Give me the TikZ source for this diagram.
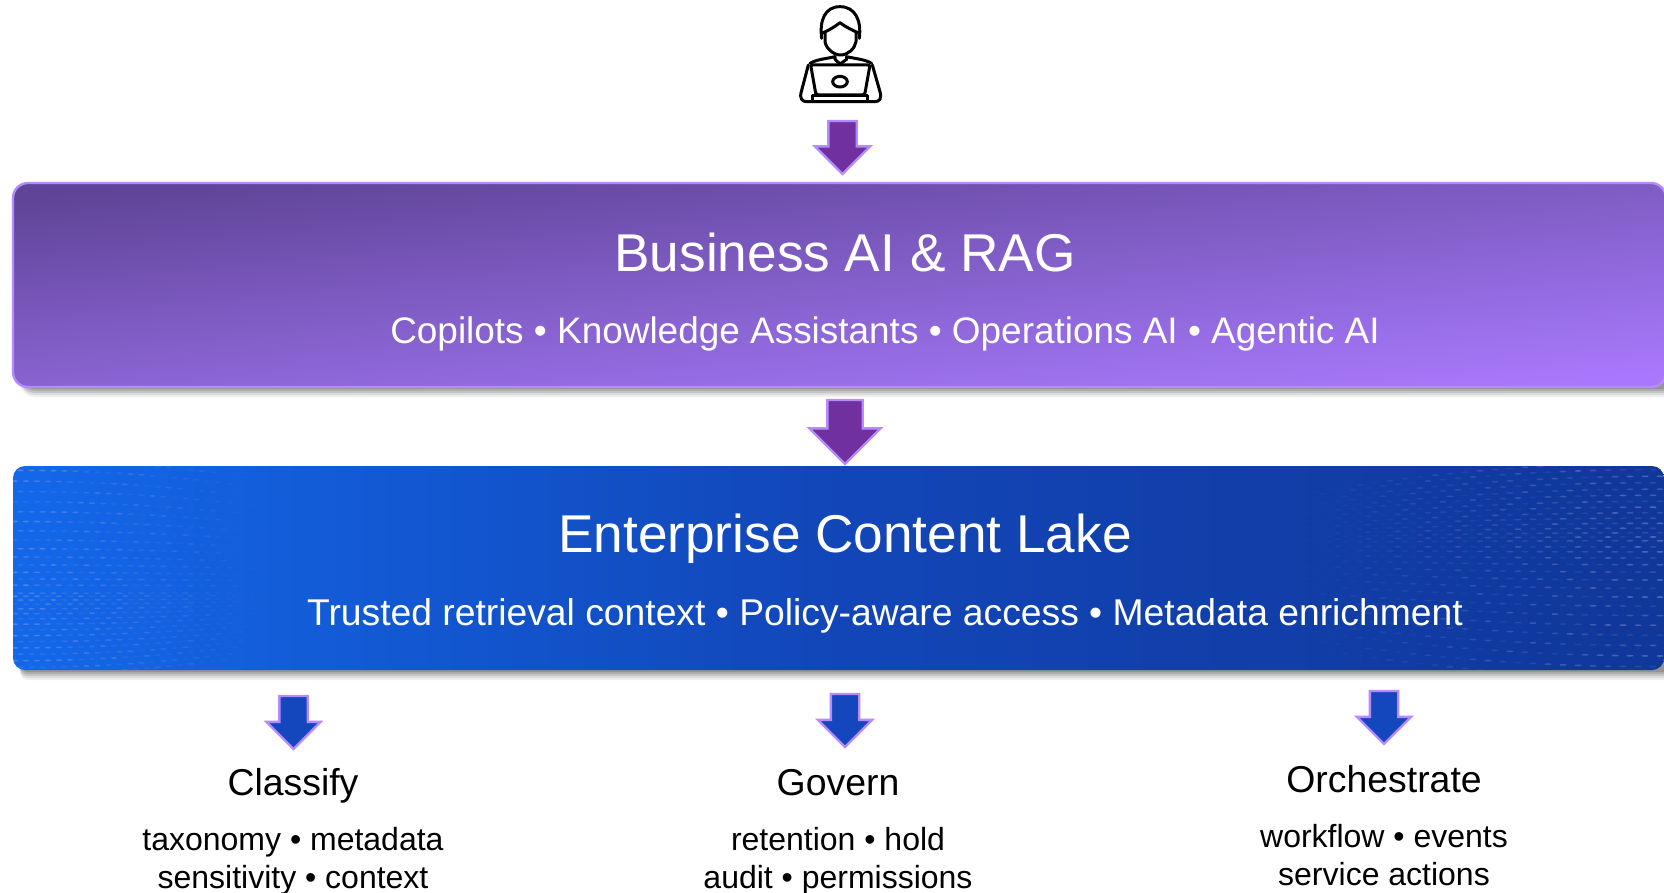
\documentclass[tikz,border=0pt]{standalone}
\usepackage{fontspec}
\setmainfont{Liberation Sans}
\usetikzlibrary{shapes.arrows,calc}
\definecolor{edgeLilac}{HTML}{B48CFF}
\definecolor{arrowPurple}{HTML}{7030A0}
\definecolor{arrowBlue}{HTML}{1447BE}
\definecolor{purpleA}{HTML}{5F4497}
\definecolor{purpleB}{HTML}{8460CB}
\definecolor{purpleC}{HTML}{A878FC}
\definecolor{blueA}{HTML}{1368EA}
\definecolor{blueB}{HTML}{1246B8}
\definecolor{blueC}{HTML}{10379A}
\definecolor{dotGrey}{HTML}{A8A8D8}
\tikzset{
  blockarrow/.style={single arrow,shape border rotate=270,draw=edgeLilac,line width=2.4pt,
    outer sep=0pt,single arrow head indent=0pt,single arrow tip angle=90,anchor=tip},
  smallarrow/.style={blockarrow,fill=arrowBlue,inner sep=13pt,minimum height=53pt,minimum width=52pt,single arrow head extend=13pt},
  title/.style={text=white,font=\fontsize{53.2}{60}\selectfont,anchor=base,inner sep=0pt},
  sub/.style={text=white,anchor=base,inner sep=0pt},
  head/.style={text=black,font=\fontsize{37.4}{44}\selectfont,anchor=base,inner sep=0pt},
  detail/.style={text=black,font=\fontsize{32}{38}\selectfont,anchor=base,inner sep=0pt},
  icon/.style={draw=black,line width=3pt,line join=round,line cap=round}
}
\begin{document}
\begin{tikzpicture}[x=1pt,y=-1pt]
\useasboundingbox (0,0) rectangle (1664,892);
\clip (0,0) rectangle (1664,892);
% shadows
\foreach \o/\a in {10/.06,8/.08,6/.1,4/.12,2/.14}{
  \fill[black,opacity=\a,rounded corners=15pt] (20,200) rectangle (1680,387+\o);
  \fill[black,opacity=\a,rounded corners=8pt] (20,480) rectangle (1680,670+\o);
}
% purple band
\shade[rounded corners=15pt,draw=edgeLilac,line width=2.4pt,top color=purpleA,bottom color=purpleC,middle color=purpleB,shading angle=5.5] (13,183) rectangle (1666,387);
% blue band
\begin{scope}
\clip[rounded corners=12pt] (13,466) rectangle (1664,670);
\shade[left color=blueA,right color=blueC,middle color=blueB] (13,466) rectangle (1664,670);
\foreach \i in {0,...,30}{\foreach \j in {0,...,24}{
  \pgfmathsetmacro{\uu}{(\i-15)/15}
  \pgfmathsetmacro{\pw}{(abs(\uu)+.04)^1.3}
  \pgfmathsetmacro{\sg}{\uu<0 ? -1 : 1}
  \pgfmathsetmacro{\px}{15+\j*11+mod(\i,2)*5.5}
  \pgfmathsetmacro{\py}{592+(\uu<0 ? -126 : 78)*\pw-\sg*22*\pw*(\j/24)^2}
  \pgfmathsetmacro{\rr}{veclen((\px-25)/1.7,\py-592)}
  \pgfmathsetmacro{\op}{max(0,.42-.018*\j)*(.3+.7*sin(\rr*14)*sin(\rr*14))}
  \fill[dotGrey,opacity=\op] (\px,\py) ellipse (3.2 and .9);
  \pgfmathsetmacro{\qx}{1660-\j*15-mod(\i,2)*7}
  \pgfmathsetmacro{\qy}{545+(\uu<0 ? -78 : 126)*\pw-\sg*30*\pw*(\j/24)^2}
  \pgfmathsetmacro{\rq}{veclen((\qx-1650)/2,\qy-545)}
  \pgfmathsetmacro{\oq}{max(0,.42-.017*\j)*(.3+.7*sin(\rq*12)*sin(\rq*12))}
  \fill[dotGrey,opacity=\oq] (\qx,\qy) ellipse (3.6 and .9);
}}
\end{scope}
% person
\begin{scope}[shift={(740,0)},x=.3333pt,y=-.3333pt]
\draw[icon] (245,115) .. controls (238,60) and (255,20) .. (300,20) .. controls (345,20) and (365,60) .. (358,115);
\draw[icon] (245,100) .. controls (265,92) and (285,80) .. (300,68) .. controls (315,80) and (340,92) .. (358,100);
\draw[icon] (255,98) -- (255,125) .. controls (258,145) and (280,165) .. (302,165) .. controls (325,165) and (345,145) .. (348,125) -- (348,98);
\draw[icon] (210,190) .. controls (230,178) and (260,176) .. (285,170) -- (285,178) -- (300,192) -- (320,178) -- (320,170) .. controls (345,176) and (375,178) .. (395,190);
\draw[icon,rounded corners=2pt] (212,195) -- (390,195) -- (374,285) -- (228,285) -- cycle;
\draw[icon] (300,245) ellipse (22 and 16);
\draw[icon] (205,195) -- (184,275) .. controls (178,295) and (186,305) .. (200,305) -- (405,305) .. controls (419,305) and (426,295) .. (420,275) -- (397,195);
\draw[icon] (218,305) -- (218,287) -- (384,287) -- (384,305);
\end{scope}
% arrows
\node[blockarrow,fill=arrowPurple,inner sep=13pt,minimum height=53pt,minimum width=53pt,single arrow head extend=13.5pt] (arrUser) at (842.5,174) {};
\node[blockarrow,fill=arrowPurple,inner sep=16.5pt,minimum height=64pt,minimum width=69pt,single arrow head extend=18pt] (arrBiz) at (845,464) {};
\node[smallarrow] (arrClassify) at (293.5,749) {};
\node[smallarrow] (arrGovern) at (845,747) {};
\node[smallarrow] (arrOrch) at (1384,744) {};
% text
\node[title] (bizTitle) at (845,271) {Business AI \& RAG};
\node[sub,font=\fontsize{36.94}{44}\selectfont] (bizSub) at (885,343) {Copilots • Knowledge Assistants • Operations AI • Agentic AI};
\node[title] (lakeTitle) at (845,552) {Enterprise Content Lake};
\node[sub,font=\fontsize{37.27}{44}\selectfont] (lakeSub) at (885,625) {Trusted retrieval context • Policy-aware access • Metadata enrichment};
\node[head] (classify) at (293,795) {Classify};
\node[detail] (c1) at (293,850) {taxonomy • metadata};
\node[detail] (c2) at (293,888) {sensitivity • context};
\node[head] (govern) at (838,795) {Govern};
\node[detail] (g1) at (838,850) {retention • hold};
\node[detail] (g2) at (838,888) {audit • permissions};
\node[head] (orch) at (1384,792) {Orchestrate};
\node[detail] (o1) at (1384,847) {workflow • events};
\node[detail] (o2) at (1384,885) {service actions};
\end{tikzpicture}
\end{document}
